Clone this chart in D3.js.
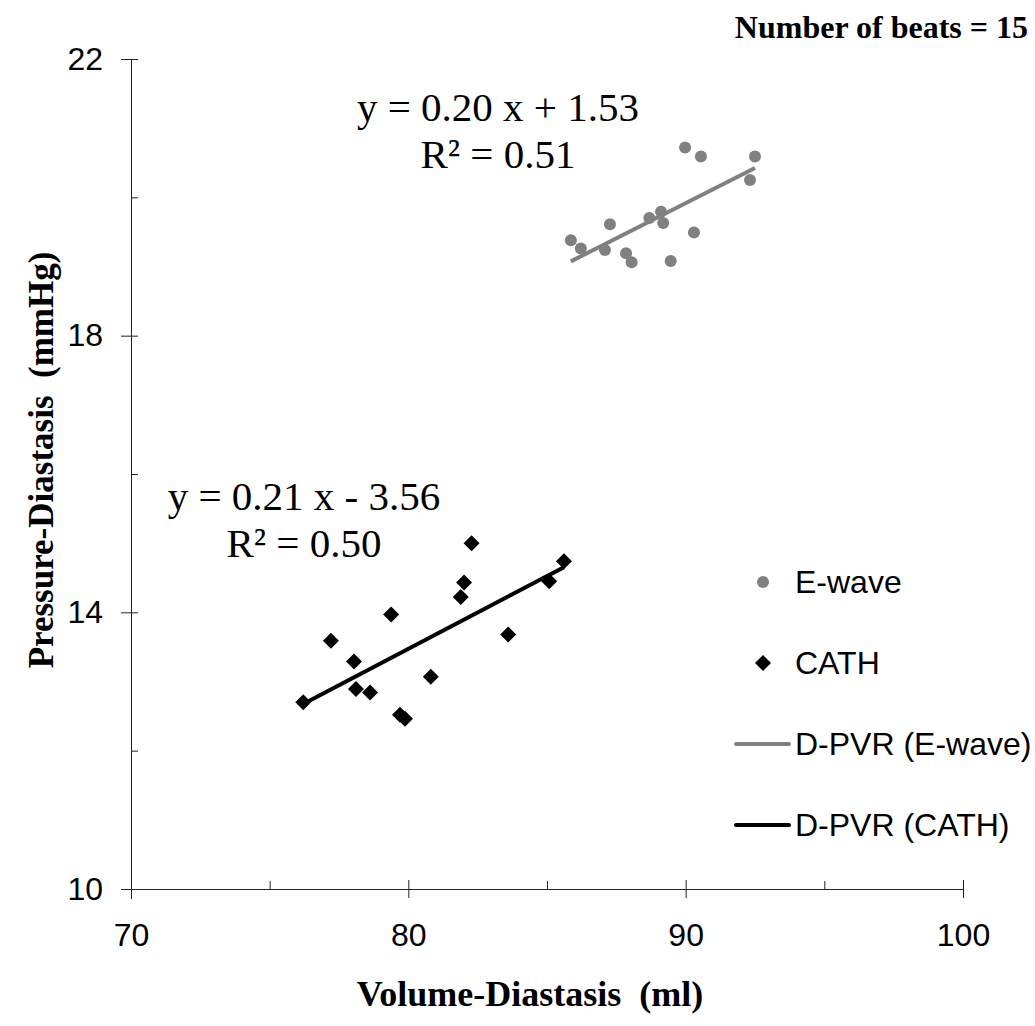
<!DOCTYPE html>
<html>
<head>
<meta charset="utf-8">
<script src="https://cdn.jsdelivr.net/npm/d3@7"></script>
<style>
  body { margin: 0; background: #fff; }
  svg text { white-space: pre; }
</style>
</head>
<body>
<svg id="chart"></svg>
<script>
var width = 1035, height = 1026;

// E-wave beats (volume ml, pressure mmHg)
var ewaveVolume = [85.86, 86.22, 87.09, 87.27, 87.85, 88.05, 88.69, 89.11, 89.19, 89.46, 89.98, 90.30, 90.55, 92.32, 92.50];
var ewavePressure = [19.38, 19.26, 19.24, 19.61, 19.19, 19.06, 19.70, 19.79, 19.63, 19.08, 20.72, 19.49, 20.59, 20.25, 20.59];

// catheter beats
var cathVolume = [82.28, 85.61, 82.01, 85.08, 81.89, 79.38, 83.60, 77.21, 78.04, 80.81, 78.11, 78.62, 76.21, 79.70, 79.88];
var cathPressure = [15.00, 14.74, 14.43, 14.45, 14.22, 13.97, 13.68, 13.59, 13.29, 13.07, 12.89, 12.84, 12.70, 12.52, 12.46];

var xMajor = [70, 80, 90, 100];
var xMinor = [75, 85, 95];
var yMajor = [10, 14, 18, 22];
var yMinor = [12, 16, 20];

var legendLabels = ["E-wave", "CATH", "D-PVR (E-wave)", "D-PVR (CATH)"];
var ewaveEquation = ["y = 0.20 x + 1.53", "R\u00b2 = 0.51"];
var cathEquation = ["y = 0.21 x - 3.56", "R\u00b2 = 0.50"];

var grey = "#808080";
var serif = "'Liberation Serif', 'Times New Roman', serif";
var sans = "'Liberation Sans', Arial, sans-serif";

var svg = d3.select("#chart")
    .attr("width", width)
    .attr("height", height);

var x = d3.scaleLinear().domain([70, 100]).range([131, 963]);
var y = d3.scaleLinear().domain([10, 22]).range([889, 59]);

// square turned on its corner
var diamond = {
    draw: function(ctx, size) {
        var r = Math.sqrt(size / 2);
        ctx.moveTo(0, -r);
        ctx.lineTo(r, 0);
        ctx.lineTo(0, r);
        ctx.lineTo(-r, 0);
        ctx.closePath();
    }
};

// least squares line over the x range of the points
function fitLine(xs, ys) {
    var mx = d3.mean(xs), my = d3.mean(ys);
    var sxy = d3.sum(xs, function(d, i) { return (d - mx) * (ys[i] - my); });
    var sxx = d3.sum(xs, function(d) { return (d - mx) * (d - mx); });
    var b = sxy / sxx;
    var a = my - b * mx;
    var x0 = d3.min(xs), x1 = d3.max(xs);
    return [[x0, a + b * x0], [x1, a + b * x1]];
}

function drawAxes() {
    var xAxis = svg.append("g")
        .attr("transform", "translate(0," + y(10) + ")")
        .call(d3.axisBottom(x).tickValues(xMajor).tickSize(9).tickPadding(25).tickSizeOuter(0));
    xAxis.selectAll(".tick line").attr("y1", -9);
    xAxis.select(".domain").attr("d", "M" + (x(70) - 10) + ",0.5H" + x(100));

    svg.append("g")
        .attr("transform", "translate(0," + y(10) + ")")
        .call(d3.axisBottom(x).tickValues(xMinor).tickSize(-8).tickFormat(""))
        .select(".domain").remove();

    var yAxis = svg.append("g")
        .attr("transform", "translate(" + x(70) + ",0)")
        .call(d3.axisLeft(y).tickValues(yMajor).tickSize(10).tickPadding(18).tickSizeOuter(0));
    yAxis.selectAll(".tick line").attr("x1", 7);
    yAxis.select(".domain").attr("d", "M0.5," + y(22) + "V" + (y(10) + 10));

    svg.append("g")
        .attr("transform", "translate(" + x(70) + ",0)")
        .call(d3.axisLeft(y).tickValues(yMinor).tickSize(-7).tickFormat(""))
        .select(".domain").remove();

    svg.selectAll(".tick text")
        .style("font-family", sans)
        .style("font-size", "32px")
        .attr("fill", "#000");
    svg.selectAll(".domain, .tick line").attr("stroke", "#222");

    svg.append("text")
        .attr("x", 530)
        .attr("y", 1006)
        .attr("text-anchor", "middle")
        .style("font-family", serif)
        .style("font-weight", "bold")
        .style("font-size", "36px")
        .text("Volume-Diastasis  (ml)");

    svg.append("text")
        .attr("transform", "translate(53,460) rotate(-90)")
        .attr("text-anchor", "middle")
        .style("font-family", serif)
        .style("font-weight", "bold")
        .style("font-size", "35px")
        .text("Pressure-Diastasis  (mmHg)");

    svg.append("text")
        .attr("x", 1028)
        .attr("y", 38)
        .attr("text-anchor", "end")
        .style("font-family", serif)
        .style("font-weight", "bold")
        .style("font-size", "32px")
        .text("Number of beats = 15");
}

function drawSeries() {
    var line = d3.line().x(function(d) { return x(d[0]); }).y(function(d) { return y(d[1]); });

    svg.append("path")
        .datum(fitLine(ewaveVolume, ewavePressure))
        .attr("d", line)
        .attr("stroke", grey)
        .attr("stroke-width", 4)
        .attr("fill", "none");

    svg.append("path")
        .datum(fitLine(cathVolume, cathPressure))
        .attr("d", line)
        .attr("stroke", "#000")
        .attr("stroke-width", 4)
        .attr("fill", "none");

    svg.selectAll("circle.ewave").data(ewaveVolume).enter().append("circle")
        .attr("class", "ewave")
        .attr("cx", function(d) { return x(d); })
        .attr("cy", function(d, i) { return y(ewavePressure[i]); })
        .attr("r", 6)
        .attr("fill", grey);

    svg.selectAll("path.cath").data(cathVolume).enter().append("path")
        .attr("class", "cath")
        .attr("d", d3.symbol().type(diamond).size(128))
        .attr("transform", function(d, i) { return "translate(" + x(d) + "," + y(cathPressure[i]) + ")"; })
        .attr("fill", "#000");
}

function drawEquations() {
    var eq = [
        {lines: ewaveEquation, cx: 498, base: [121, 168]},
        {lines: cathEquation, cx: 304, base: [510, 557]}
    ];
    eq.forEach(function(e) {
        e.lines.forEach(function(t, i) {
            svg.append("text")
                .attr("x", e.cx)
                .attr("y", e.base[i])
                .attr("text-anchor", "middle")
                .style("font-family", serif)
                .style("font-size", "41px")
                .text(t);
        });
    });
}

function drawLegend() {
    var rows = svg.selectAll("g.legend").data(legendLabels).enter().append("g")
        .attr("class", "legend")
        .attr("transform", function(d, i) { return "translate(763," + (582 + i * 81) + ")"; });

    rows.append("text")
        .attr("x", 32)
        .attr("y", 11)
        .style("font-family", sans)
        .style("font-size", "32px")
        .text(function(d) { return d; });

    rows.filter(function(d, i) { return i == 0; }).append("circle")
        .attr("r", 6)
        .attr("fill", grey);

    rows.filter(function(d, i) { return i == 1; }).append("path")
        .attr("d", d3.symbol().type(diamond).size(128))
        .attr("fill", "#000");

    rows.filter(function(d, i) { return i >= 2; }).append("line")
        .attr("x1", -27)
        .attr("x2", 26)
        .attr("stroke", function(d, i) { return i == 0 ? grey : "#000"; })
        .attr("stroke-width", 4)
        .attr("stroke-linecap", "round");
}

drawSeries();
drawAxes();
drawEquations();
drawLegend();
</script>
</body>
</html>
